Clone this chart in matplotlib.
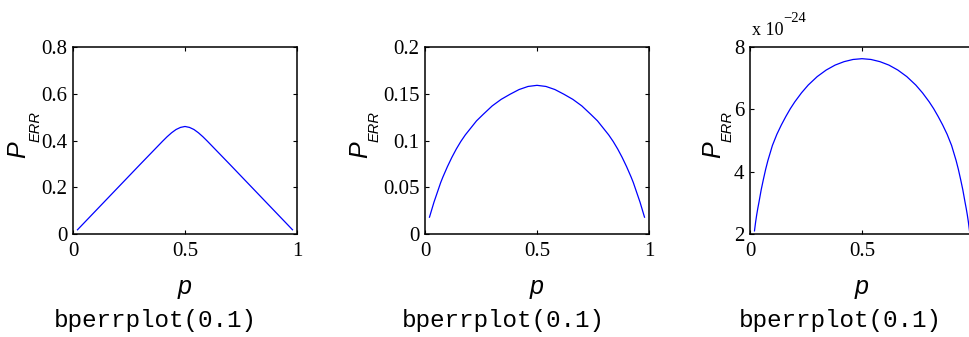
import matplotlib
matplotlib.use("Agg")
import matplotlib.pyplot as plt

FIG_W, FIG_H = 970, 337

# panel 1: triangular error curve
p1 = [0.02, 0.1, 0.2, 0.3, 0.4, 0.42, 0.44, 0.46, 0.48, 0.5,
      0.52, 0.54, 0.56, 0.58, 0.6, 0.7, 0.8, 0.9, 0.98]
v1 = [0.018, 0.098, 0.198, 0.298, 0.397, 0.416, 0.433, 0.447, 0.456, 0.46,
      0.456, 0.447, 0.433, 0.416, 0.397, 0.298, 0.198, 0.098, 0.018]

# panel 2
p2 = [0.02, 0.03, 0.04, 0.05, 0.06, 0.07, 0.08, 0.1, 0.12, 0.14, 0.16, 0.18,
      0.2, 0.23, 0.26, 0.3, 0.34, 0.38, 0.42, 0.46, 0.5,
      0.54, 0.58, 0.62, 0.66, 0.7, 0.74, 0.77, 0.8, 0.82, 0.84, 0.86, 0.88,
      0.9, 0.92, 0.93, 0.94, 0.95, 0.96, 0.97, 0.98]
v2 = [0.018, 0.026, 0.034, 0.041, 0.048, 0.055, 0.061, 0.072, 0.082, 0.091,
      0.099, 0.106, 0.112, 0.121, 0.128, 0.137, 0.144, 0.1495, 0.1545,
      0.1578, 0.159,
      0.1578, 0.1545, 0.1495, 0.144, 0.137, 0.128, 0.121, 0.112, 0.106,
      0.099, 0.091, 0.082, 0.072, 0.061, 0.055, 0.048, 0.041, 0.034, 0.026,
      0.018]

# panel 3 (values in units of 1e-24)
p3 = [0.02, 0.025, 0.03, 0.035, 0.04, 0.05, 0.06, 0.07, 0.08, 0.1, 0.12,
      0.14, 0.16, 0.18, 0.2, 0.23, 0.26, 0.3, 0.34, 0.38, 0.42, 0.46, 0.5,
      0.54, 0.58, 0.62, 0.66, 0.7, 0.74, 0.77, 0.8, 0.82, 0.84, 0.86, 0.88,
      0.9, 0.92, 0.93, 0.94, 0.95, 0.96, 0.965, 0.97, 0.975, 0.98]
v3 = [2.10, 2.38, 2.62, 2.83, 3.02, 3.42, 3.76, 4.08, 4.36, 4.84, 5.20,
      5.50, 5.77, 6.02, 6.24, 6.53, 6.78, 7.05, 7.26, 7.42, 7.53, 7.60, 7.625,
      7.60, 7.53, 7.42, 7.26, 7.05, 6.78, 6.53, 6.24, 6.02, 5.77, 5.50, 5.20,
      4.84, 4.36, 4.08, 3.76, 3.42, 3.02, 2.83, 2.62, 2.38, 2.10]

x_ticks = [0, 0.5, 1]
x_labels = [["0", "0.5", "1"], ["0", "0.5", "1"], ["0", "0.5", ""]]
y_ticks = [[0, 0.2, 0.4, 0.6, 0.8], [0, 0.05, 0.1, 0.15, 0.2], [2, 4, 6, 8]]
y_labels = [["0", "0.2", "0.4", "0.6", "0.8"],
            ["0", "0.05", "0.1", "0.15", "0.2"],
            ["2", "4", "6", "8"]]
y_limits = [(0, 0.8), (0, 0.2), (2, 8)]
caption = "bperrplot(0.1)"

SERIF = "Liberation Serif"
SANS = "Liberation Sans"
MONO = "Liberation Mono"


def fx(px):
    return px / FIG_W


def fy(py):
    return 1 - py / FIG_H


def main() -> None:
    fig = plt.figure(figsize=(FIG_W / 100, FIG_H / 100), dpi=100)

    # axes boxes in pixels: left, top, width, height
    boxes = [(73, 47, 224, 187), (425, 47, 224, 187), (750, 47, 224, 187)]
    series = [(p1, v1), (p2, v2), (p3, v3)]
    ylab_x = [(18, 36), (360, 375), (713, 728)]
    caption_x = [155, 503, 840]

    for i, (box, (px, py)) in enumerate(zip(boxes, series)):
        l, t, w, h = box
        ax = fig.add_axes([fx(l), fy(t + h), w / FIG_W, h / FIG_H])
        ax.plot(px, py, color="#0000ff", linewidth=0.9)
        ax.set_xlim(0, 1)
        ax.set_ylim(*y_limits[i])
        ax.set_xticks(x_ticks)
        ax.set_xticklabels(x_labels[i])
        ax.set_yticks(y_ticks[i])
        ax.set_yticklabels(y_labels[i])
        ax.tick_params(direction="in", top=True, right=True, length=3,
                       width=0.8, labelsize=15)
        ax.tick_params(axis="x", pad=6)
        ax.tick_params(axis="y", pad=4)
        for lab in ax.get_xticklabels() + ax.get_yticklabels():
            lab.set_fontfamily(SERIF)
        for sp in ax.spines.values():
            sp.set_linewidth(1.1)

        cx = l + w / 2
        fig.text(fx(cx), fy(287), "p", family=SANS, style="italic",
                 fontsize=18, ha="center", va="center")
        fig.text(fx(ylab_x[i][0]), fy(150), "P", family=SANS,
                 style="italic", fontsize=18, rotation=90,
                 ha="center", va="center")
        fig.text(fx(ylab_x[i][1]), fy(126), "ERR", family=SANS,
                 style="italic", fontsize=10.5, rotation=90,
                 ha="center", va="center")
        fig.text(fx(caption_x[i]), fy(321), caption, family=MONO,
                 fontsize=17.5, ha="center", va="center")

    # exponent label on the third panel
    fig.text(fx(752), fy(35), "x 10", family=SERIF, fontsize=13,
             ha="left", va="baseline")
    fig.text(fx(783), fy(22), "\u221224", family=SERIF, fontsize=10.5,
             ha="left", va="baseline")

    fig.savefig("out.png", dpi=100)
    plt.close(fig)


if __name__ == "__main__":
    main()
